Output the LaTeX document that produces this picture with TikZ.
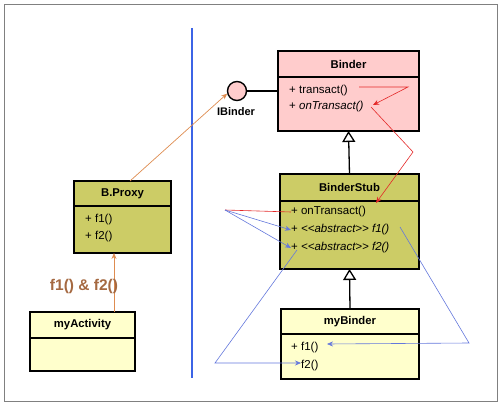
\documentclass[tikz,border=0pt]{standalone}
\usepackage{fontspec}
\setmainfont{Liberation Sans}
\usetikzlibrary{arrows.meta,positioning}
\definecolor{pinkfill}{RGB}{255,204,204}
\definecolor{olivefill}{RGB}{204,204,102}
\definecolor{creamfill}{RGB}{255,255,204}
\definecolor{callred}{RGB}{228,40,40}
\definecolor{callblue}{RGB}{100,120,220}
\definecolor{callorange}{RGB}{222,140,80}
\definecolor{labelbrown}{RGB}{165,105,65}
\definecolor{splitblue}{RGB}{60,100,230}
\tikzset{
classhead/.style={draw, line width=1.4pt, inner sep=0pt, outer sep=0pt, font=\bfseries\fontsize{11.3}{13}\selectfont},
classbody/.style={draw, line width=1.4pt, inner sep=0pt, outer sep=0pt, below=0pt of #1},
member/.style={anchor=west, inner sep=0pt, font=\fontsize{11.5}{13}\selectfont},
inherit/.style={line width=1.3pt, -{Triangle[open, length=11pt, width=13pt, fill=white]}},
redcall/.style={callred, line width=0.6pt, -{Stealth[length=6pt, width=5pt]}},
bluecall/.style={callblue, line width=0.6pt, -{Stealth[length=6pt, width=5pt]}},
orangecall/.style={callorange, line width=0.7pt, -{Stealth[length=6pt, width=5pt]}}
}
\begin{document}
\begin{tikzpicture}[x=1pt,y=-1pt]
\useasboundingbox (0,0) rectangle (501,404);
\draw[gray, line width=1pt] (4,5) rectangle (497,401); % frame
\draw[splitblue, line width=2.2pt] (192,28) -- (192,378); % split line
% Binder
\node[classhead, fill=pinkfill, minimum width=141pt, minimum height=26pt] (binderhead) at (348.5,64) {Binder};
\node[classbody=binderhead, fill=pinkfill, minimum width=141pt, minimum height=54pt] (binderbody) {};
\node[member] (transact) at (289,91) {+ transact()};
\node[member] (ontransact) at (289,107) {+ \textit{onTransact()}};
\node[circle, draw, line width=1.4pt, fill=pinkfill, minimum size=19pt, inner sep=0pt] (ibinder) at (237,91) {};
\node[font=\bfseries\fontsize{11}{13}\selectfont] (ibinderlabel) at (236,112) {IBinder};
\draw[line width=1.4pt] (ibinder.east) -- (ibinder.east -| binderbody.west);
% BinderStub
\node[classhead, fill=olivefill, minimum width=139pt, minimum height=27pt] (stubhead) at (349.5,187.5) {BinderStub};
\node[classbody=stubhead, fill=olivefill, minimum width=139pt, minimum height=68pt] (stubbody) {};
\node[member] (stubon) at (291,212) {+ onTransact()};
\node[member] (stubfa) at (291,230) {+ \textit{<{}<abstract>{}> f1()}};
\node[member] (stubfb) at (291,248) {+ \textit{<{}<abstract>{}> f2()}};
% myBinder
\node[classhead, fill=creamfill, minimum width=138pt, minimum height=25pt] (mybinderhead) at (350,321.5) {myBinder};
\node[classbody=mybinderhead, fill=creamfill, minimum width=138pt, minimum height=45pt] (mybinderbody) {};
\node[member] (myfa) at (291,348) {+ f1()};
\node[member] (myfb) at (301,366) {f2()};
% B.Proxy
\node[classhead, fill=olivefill, minimum width=97pt, minimum height=25pt] (proxyhead) at (122.5,193.5) {B.Proxy};
\node[classbody=proxyhead, fill=olivefill, minimum width=97pt, minimum height=47pt] (proxybody) {};
\node[member] (proxyfa) at (85,220) {+ f1()};
\node[member] (proxyfb) at (85,237) {+ f2()};
% myActivity
\node[classhead, fill=creamfill, minimum width=105pt, minimum height=26pt] (activityhead) at (82.5,325) {myActivity};
\node[classbody=activityhead, fill=creamfill, minimum width=105pt, minimum height=33pt] (activitybody) {};
% inheritance
\draw[inherit] (stubhead.north) -- (binderbody.south);
\draw[inherit] (mybinderhead.north) -- (stubbody.south);
% calls
\coordinate (ra) at (359,87);
\coordinate (rb) at (408,87);
\coordinate (rc) at (373,105);
\coordinate (rd) at (371,107);
\coordinate (re) at (413,152);
\coordinate (rf) at (376,203);
\draw[redcall] (ra) -- (rb) -- (rc);
\draw[redcall] (rd) -- (re) -- (rf);
\coordinate (fan) at (225,210);
\draw[callred, line width=0.6pt] (fan) -- (stubon.west);
\draw[bluecall] (fan) -- (stubfa.west);
\draw[bluecall] (fan) -- (stubfb.west);
\coordinate (ba) at (400,227);
\coordinate (bb) at (469,343);
\coordinate (bc) at (327,344);
\draw[bluecall] (ba) -- (bb) -- (bc);
\coordinate (bd) at (297,250);
\coordinate (be) at (215,363);
\draw[bluecall] (bd) -- (be) -- (be -| myfb.west);
\draw[orangecall] (proxyhead.north -| 130,0) -- (ibinder.195);
\draw[orangecall] (activityhead.north -| 114,0) -- (proxybody.south -| 114,0);
\node[labelbrown, font=\bfseries\fontsize{15.5}{18}\selectfont] (calllabel) at (84,286) {f1() \& f2()};
\end{tikzpicture}
\end{document}
